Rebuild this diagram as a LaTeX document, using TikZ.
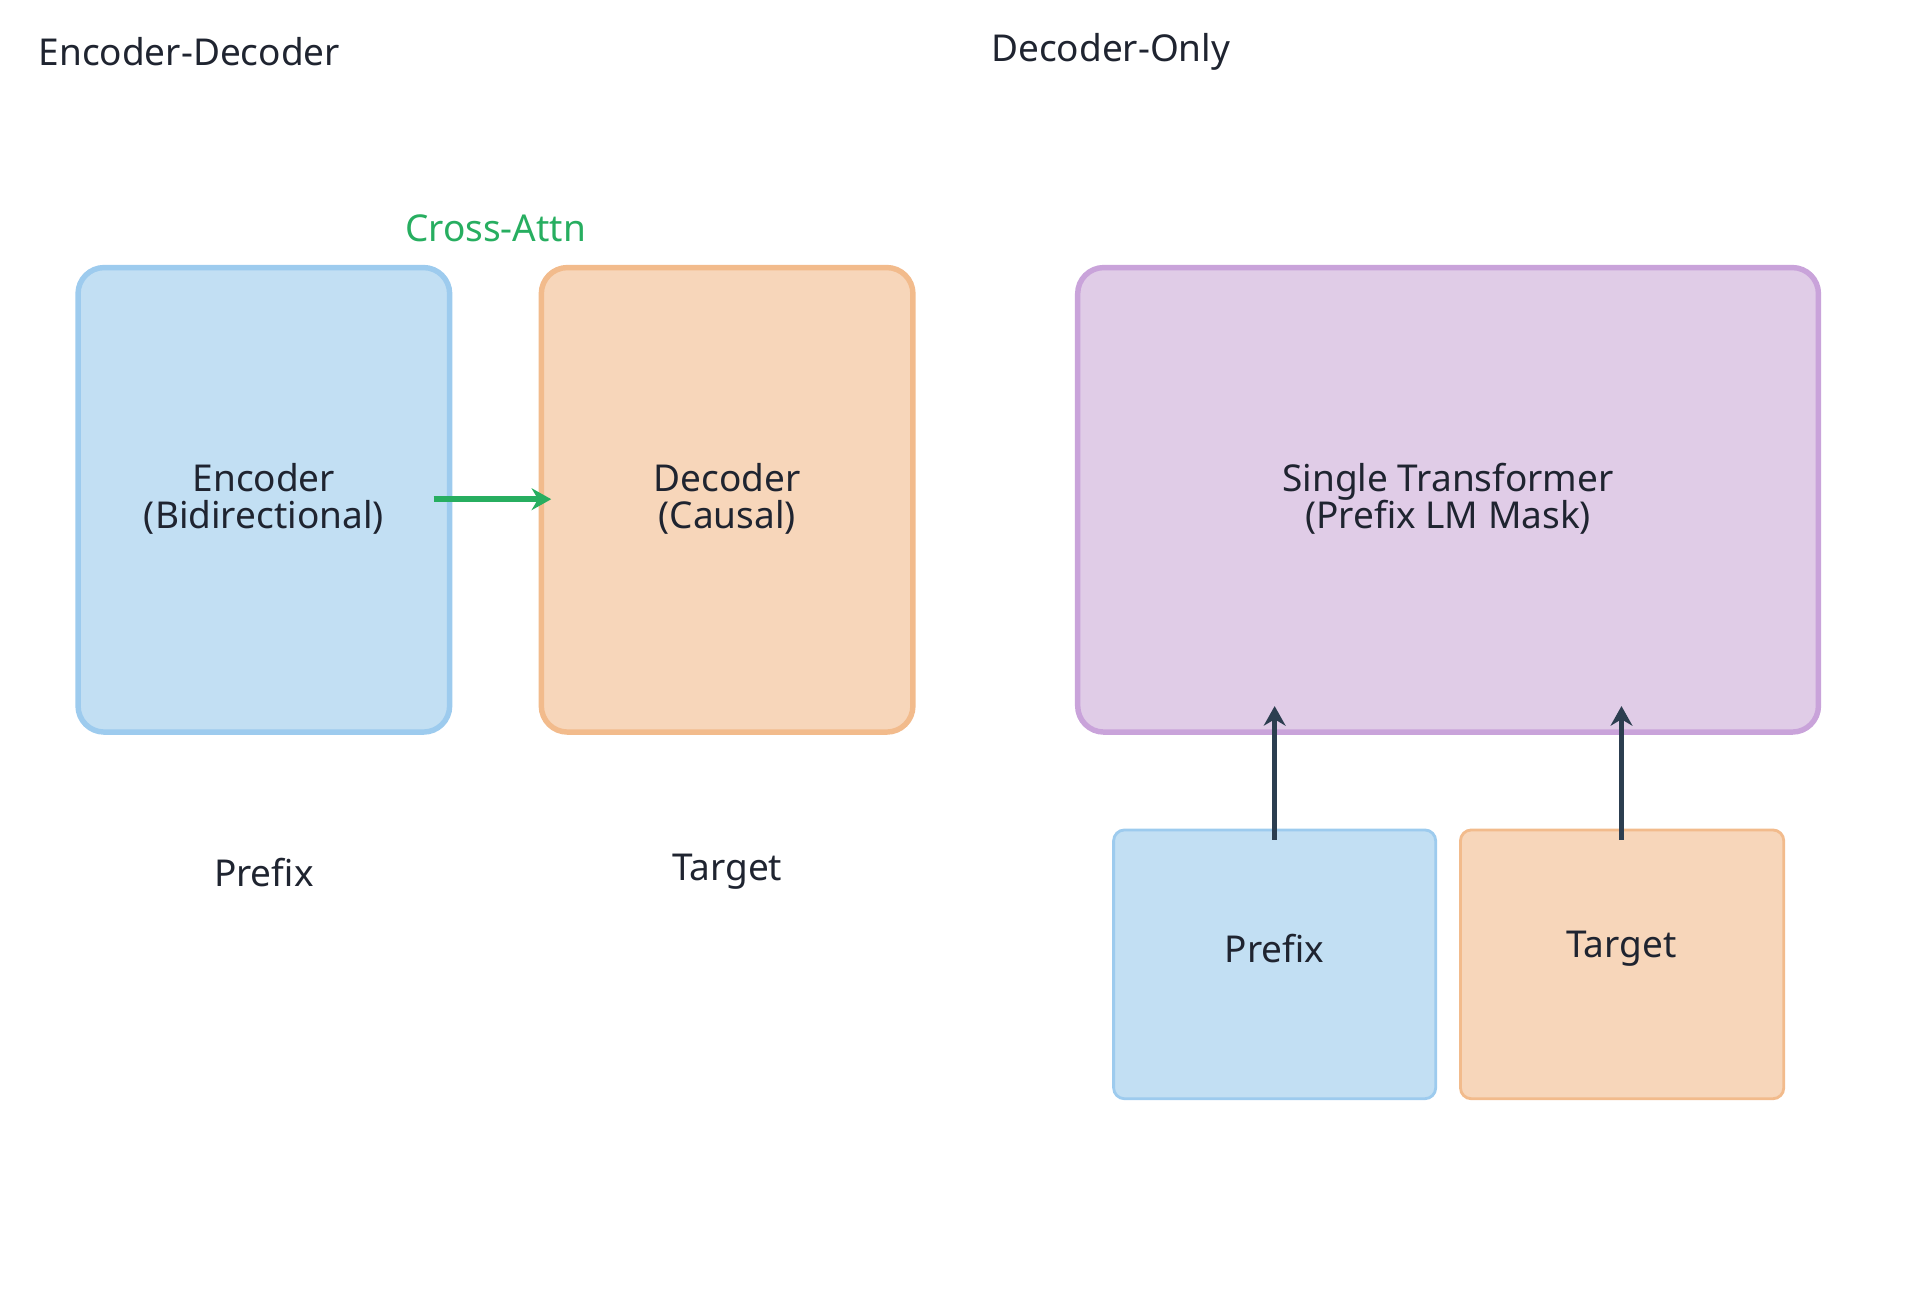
\documentclass[tikz,border=0pt]{standalone}
\usepackage{fontspec}
\setmainfont{Noto Sans}
\usetikzlibrary{arrows.meta}
\definecolor{bfill}{HTML}{C2DFF3}\definecolor{bdraw}{HTML}{9DCBEE}
\definecolor{ofill}{HTML}{F7D6BA}\definecolor{odraw}{HTML}{F2BB8C}
\definecolor{pfill}{HTML}{E0CCE7}\definecolor{pdraw}{HTML}{C9A3DA}
\definecolor{grn}{HTML}{27AE60}\definecolor{dark}{HTML}{2C3E50}
\definecolor{txt}{HTML}{1F2430}
\begin{document}
\begin{tikzpicture}[x=0.02cm,y=-0.02cm,
  lbl/.style={font=\fontsize{17}{20}\selectfont, text=txt, align=center},
  big/.style={draw, line width=2.5pt, rounded corners=12pt},
  small/.style={draw, line width=1.3pt, rounded corners=5pt},
  arr/.style={line width=2.6pt, -{Stealth[length=9pt,width=10pt]}}]
\useasboundingbox (0,0) rectangle (1550,1043);
\node[lbl, anchor=west] (t1) at (25,42) {Encoder-Decoder};
\node[lbl, anchor=west] (t2) at (794,42) {Decoder-Only};
\draw[big, fill=bfill, draw=bdraw] (63,216) rectangle (363,591);
\draw[big, fill=ofill, draw=odraw] (437,216) rectangle (737,591);
\draw[big, fill=pfill, draw=pdraw] (870,216) rectangle (1468,591);
\node[lbl] (enc) at (213,403) {Encoder\\[-3pt](Bidirectional)};
\node[lbl] (dec) at (587,403) {Decoder\\[-3pt](Causal)};
\node[lbl] (st) at (1169,403) {Single Transformer\\[-3pt](Prefix LM Mask)};
\node[lbl, text=grn] (ca) at (400,184) {Cross-Attn};
\coordinate (a1) at (350,403); \coordinate (a2) at (445,403);
\draw[arr, grn] (a1) -- (a2);
\node[lbl] (p1) at (213,704) {Prefix};
\node[lbl] (tg1) at (587,704) {Target};
\draw[small, fill=bfill, draw=bdraw] (899,670) rectangle (1159,887);
\draw[small, fill=ofill, draw=odraw] (1179,670) rectangle (1440,887);
\node[lbl] (p2) at (1029,766) {Prefix};
\node[lbl] (tg2) at (1309,766) {Target};
\coordinate (b1) at (1029,678); \coordinate (b2) at (1029,570);
\coordinate (c1) at (1309,678); \coordinate (c2) at (1309,570);
\draw[arr, dark] (b1) -- (b2);
\draw[arr, dark] (c1) -- (c2);
\end{tikzpicture}
\end{document}
